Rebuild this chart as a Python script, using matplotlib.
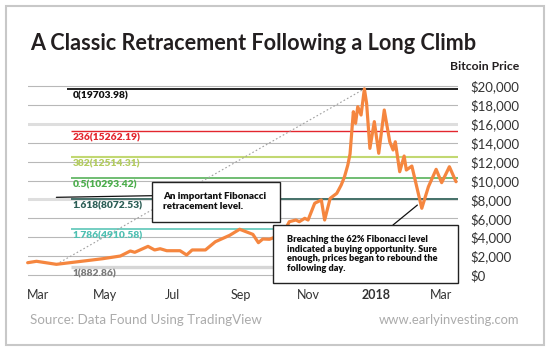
import matplotlib
matplotlib.use('Agg')
import matplotlib.pyplot as plt
import matplotlib.transforms as mtransforms
from matplotlib.patches import Rectangle
import pandas as pd
import numpy as np

plt.rcParams['font.family'] = ['Lato', 'DejaVu Sans']

# Bitcoin price
dates = ['2017-02-16', '2017-02-24', '2017-03-14', '2017-04-10', '2017-04-25',
         '2017-05-11', '2017-05-20', '2017-05-24', '2017-06-05', '2017-06-11',
         '2017-06-16', '2017-06-22', '2017-07-04', '2017-07-10', '2017-07-15',
         '2017-07-27', '2017-08-05', '2017-08-18', '2017-08-27', '2017-09-08',
         '2017-09-13', '2017-09-17', '2017-09-23', '2017-10-05', '2017-10-11',
         '2017-10-17', '2017-10-20', '2017-10-25', '2017-10-28', '2017-11-03',
         '2017-11-09', '2017-11-12', '2017-11-17', '2017-11-23', '2017-11-27',
         '2017-11-30', '2017-12-03', '2017-12-05', '2017-12-08', '2017-12-10',
         '2017-12-12', '2017-12-15', '2017-12-18', '2017-12-20', '2017-12-23',
         '2017-12-27', '2017-12-31', '2018-01-05', '2018-01-10', '2018-01-13',
         '2018-01-15', '2018-01-19', '2018-01-23', '2018-01-25', '2018-01-30',
         '2018-02-08', '2018-02-14', '2018-02-21', '2018-02-26', '2018-03-05',
         '2018-03-11']
prices = [1300, 1450, 1130, 1510, 1725,
          2010, 2540, 2400, 3030, 2650,
          2780, 2570, 2570, 2120, 2650,
          2650, 3520, 4200, 4840, 4300,
          3420, 3810, 3780, 4310, 5640,
          5820, 5640, 6000, 5820, 7590,
          7940, 5820, 8110, 8640, 9520,
          10400, 11640, 12800, 17280, 16050,
          17810, 16930, 19700, 18170, 13400,
          16230, 12880, 17460, 14100, 13230,
          14100, 10930, 12590, 11110, 11530,
          7060, 9340, 11180, 9770, 11460,
          9870]

fib_names = ['0(19703.98)', '236(15262.19)', '382(12514.31)', '0.5(10293.42)',
             '1.618(8072.53)', '1.786(4910.58)', '1(882.86)']
fib_levels = [19703.98, 15262.19, 12514.31, 10293.42, 8072.53, 4910.58, 882.86]
fib_line_colors = ['#111111', '#e3262e', '#c2d872', '#57b25a', '#2c5e56', '#5cc6b8', '#d6d6d6']
fib_text_colors = ['#111111', '#e3262e', '#b3cc5e', '#4cae4c', '#2c5e56', '#4fc0b2', '#7a7a7a']
fib_widths = [1.3, 1.0, 1.5, 1.2, 1.2, 1.2, 2.4]

price_ticks = list(range(0, 20001, 2000))
month_ticks = ['2017-03-01', '2017-05-01', '2017-07-01', '2017-09-01',
               '2017-11-01', '2018-01-01', '2018-03-01']
month_labels = ['Mar', 'May', 'Jul', 'Sep', 'Nov', '2018', 'Mar']

W, H = 550, 351
fig = plt.figure(figsize=(W / 100, H / 100), dpi=100)


def fx(x):
    return x / W


def fy(y):
    return 1 - y / H


# plot area: x 28..458 px, $0 at y=275, $20,000 at y=86
ymin, ymax = -500, 20500
ppu = (275 - 86) / 20000
top = 86 - (ymax - 20000) * ppu
bot = 275 + (0 - ymin) * ppu
ax = fig.add_axes([fx(28), fy(bot), fx(458) - fx(28), (bot - top) / H])
ax.set_ylim(ymin, ymax)
t0 = pd.Timestamp('2017-03-01')
x_left = t0 - pd.Timedelta(days=12.7)
x_right = t0 + pd.Timedelta(days=376.8)
ax.set_xlim(x_left, x_right)
for s in ax.spines.values():
    s.set_visible(False)

# gridlines
for v in price_ticks:
    ax.axhline(v, color='#b8b8b8', lw=0.8, zorder=1)
for v in [8000, 16000]:
    ax.axhline(v, color='#dedede', lw=2.2, zorder=1)

# fibonacci levels
fib_start = pd.Timestamp('2017-03-27')
label_x = pd.Timestamp('2017-03-29')
for i, (name, lvl) in enumerate(zip(fib_names, fib_levels)):
    start = pd.Timestamp('2017-03-24') if i == 0 else fib_start
    ax.hlines(lvl, start, x_right, color=fib_line_colors[i], lw=fib_widths[i], zorder=2)
    ax.annotate(name, xy=(label_x, lvl), xytext=(0, -5.0), textcoords='offset points',
                ha='left', va='center', fontsize=7.4, fontweight='heavy',
                color=fib_text_colors[i], zorder=4)

# price line and low-to-high trend
d = pd.to_datetime(dates)
p = np.array(prices)
i_lo, i_hi = int(np.argmin(p)), int(np.argmax(p))
ax.plot([d[i_lo], d[i_hi]], [p[i_lo], p[i_hi]], color='#a0a0a0', lw=0.8,
        ls=(0, (1.5, 2)), zorder=3)
ax.plot(d, p, color='#f5863f', lw=2.3, zorder=5, solid_joinstyle='round',
        solid_capstyle='round', clip_on=False)

# axes ticks
ax.yaxis.tick_right()
ax.set_yticks(price_ticks)
ax.set_yticklabels([f'${v:,}' for v in price_ticks])
ax.tick_params(axis='y', length=0, pad=8.6, labelsize=9.5, labelcolor='#333333')
ax.set_xticks(pd.to_datetime(month_ticks))
ax.set_xticklabels(month_labels)
ax.tick_params(axis='x', length=0, pad=7, labelsize=9, labelcolor='#333333')
ax.get_xticklabels()[5].set_fontweight('bold')
shift = mtransforms.ScaledTranslation(-4 / 100, 0, fig.dpi_scale_trans)
for lab in ax.get_xticklabels():
    lab.set_transform(lab.get_transform() + shift)

# annotation boxes
fig.add_artist(Rectangle((fx(152), fy(222)), fx(280) - fx(152), (222 - 182) / H,
                         transform=fig.transFigure, facecolor='white',
                         edgecolor='#222222', lw=1.0, zorder=6))
fig.text(fx(163), fy(201.5), 'An important Fibonacci\nretracement level.',
         ha='left', va='center', fontsize=7.0, fontweight='heavy', color='#111111',
         linespacing=1.15, zorder=7)
ax.annotate('', xy=(pd.Timestamp('2017-03-14'), 8220), xycoords='data',
            xytext=(152, H - 195.7), textcoords='figure pixels',
            arrowprops=dict(arrowstyle='-', color='#111111', lw=0.9,
                            shrinkA=0, shrinkB=0), annotation_clip=False)

fig.add_artist(Rectangle((fx(273), fy(283)), fx(458) - fx(273), (283 - 225) / H,
                         transform=fig.transFigure, facecolor='white',
                         edgecolor='#222222', lw=1.0, zorder=6))
fig.text(fx(287), fy(254), 'Breaching the 62% Fibonacci level\nindicated a buying opportunity. Sure\n'
         'enough, prices began to rebound the\nfollowing day.',
         ha='left', va='center', fontsize=6.6, fontweight='heavy', color='#111111',
         linespacing=1.08, zorder=7)
ax.annotate('', xy=(pd.Timestamp('2018-02-04'), 7400), xycoords='data',
            xytext=(393, H - 225), textcoords='figure pixels',
            arrowprops=dict(arrowstyle='-', color='#111111', lw=0.9,
                            shrinkA=0, shrinkB=0), annotation_clip=False)

# titles and footer
fig.text(fx(30), fy(44), 'A Classic Retracement Following a Long Climb', ha='left',
         va='center', fontsize=15.6, fontweight='bold', color='#231f20')
fig.text(fx(519), fy(66), 'Bitcoin Price', ha='right', va='center', fontsize=8.8,
         fontweight='bold', color='#231f20')
fig.text(fx(30), fy(320), 'Source: Data Found Using TradingView', ha='left',
         va='center', fontsize=9.6, color='#ababab')
fig.text(fx(519), fy(320), 'www.earlyinvesting.com', ha='right', va='center',
         fontsize=9.4, color='#ababab')

# outer frame
fig.add_artist(Rectangle((fx(6), fy(345)), fx(544) - fx(6), (345 - 6) / H,
                         transform=fig.transFigure, fill=False,
                         edgecolor='#c8c8c8', lw=1.5, zorder=0))

fig.savefig('out.png', dpi=100)
